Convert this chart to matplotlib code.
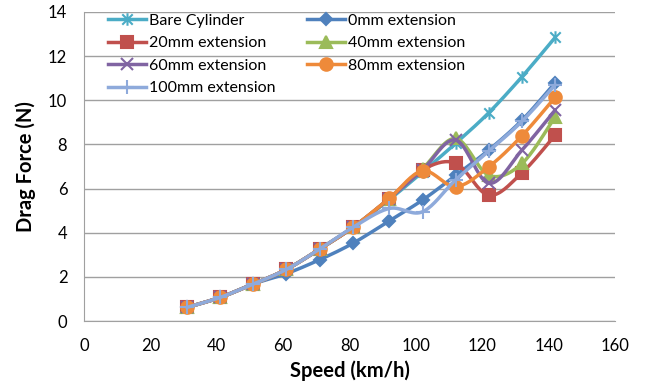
import numpy as np
import matplotlib
matplotlib.use("Agg")
import matplotlib.pyplot as plt
from matplotlib.path import Path

plt.rcParams['font.family'] = ['Lato', 'DejaVu Sans']

speed = [31, 41, 51, 61, 71, 81, 92, 102, 112, 122, 132, 142]

bare = [0.62, 1.07, 1.68, 2.34, 3.26, 4.24, 5.5, 6.75, 8.05, 9.44, 11.07, 12.85]
ext0 = [0.62, 1.07, 1.68, 2.15, 2.78, 3.52, 4.54, 5.48, 6.6, 7.75, 9.1, 10.8]
ext20 = [0.62, 1.07, 1.68, 2.34, 3.26, 4.24, 5.55, 6.85, 7.15, 5.7, 6.72, 8.43]
ext40 = [0.62, 1.07, 1.68, 2.34, 3.26, 4.24, 5.55, 6.9, 8.27, 6.6, 7.14, 9.26]
ext60 = [0.62, 1.07, 1.68, 2.34, 3.26, 4.24, 5.55, 6.85, 8.2, 6.24, 7.75, 9.56]
ext80 = [0.62, 1.07, 1.68, 2.34, 3.26, 4.24, 5.56, 6.8, 6.09, 6.99, 8.4, 10.14]
ext100 = [0.62, 1.07, 1.68, 2.34, 3.26, 4.24, 5.1, 4.95, 6.4, 7.7, 9.05, 10.7]

labels = ['Bare Cylinder', '0mm extension', '20mm extension', '40mm extension',
          '60mm extension', '80mm extension', '100mm extension']

# star marker like excel (x plus vertical bar)
star = Path([(-1, -1), (1, 1), (-1, 1), (1, -1), (0, -1.2), (0, 1.2)],
            [Path.MOVETO, Path.LINETO, Path.MOVETO, Path.LINETO, Path.MOVETO, Path.LINETO])


def smooth(x, y, n=20):
    # catmull-rom style bezier, like excel smoothed lines
    x = np.asarray(x, float)
    y = np.asarray(y, float)
    px = np.concatenate([[x[0]], x, [x[-1]]])
    py = np.concatenate([[y[0]], y, [y[-1]]])
    xs, ys = [], []
    t = np.linspace(0, 1, n)
    for i in range(1, len(px) - 2):
        p0 = np.array([px[i], py[i]])
        p3 = np.array([px[i + 1], py[i + 1]])
        c1 = p0 + (p3 - np.array([px[i - 1], py[i - 1]])) / 6
        c2 = p3 - (np.array([px[i + 2], py[i + 2]]) - p0) / 6
        b = ((1 - t) ** 3)[:, None] * p0 + (3 * (1 - t) ** 2 * t)[:, None] * c1 \
            + (3 * (1 - t) * t ** 2)[:, None] * c2 + (t ** 3)[:, None] * p3
        xs.extend(b[:, 0])
        ys.extend(b[:, 1])
    return xs, ys


series = [bare, ext0, ext20, ext40, ext60, ext80, ext100]
colors = ['#4BACC6', '#4F81BD', '#C0504D', '#9BBB59', '#8064A2', '#EE8A3A', '#8EAADB']
markers = [star, 'D', 's', '^', 'x', 'o', '+']
msizes = [9, 6, 8, 8, 8, 9, 10]

fig = plt.figure(figsize=(6.46, 3.85), dpi=100)
ax = fig.add_axes([0.130, 0.166, 0.822, 0.803])

handles = []
for vals, c, m, ms, lab in zip(series, colors, markers, msizes, labels):
    sx, sy = smooth(speed, vals)
    ax.plot(sx, sy, color=c, lw=2.5, solid_capstyle='round')
    ax.plot(speed, vals, ls='none', marker=m, color=c, ms=ms, mew=1.5)
    h, = ax.plot([], [], color=c, lw=2.5, marker=m, ms=ms, mew=1.5, label=lab)
    handles.append(h)

ax.set_xlim(0, 160)
ax.set_ylim(0, 14)
ax.set_xticks(np.arange(0, 161, 20))
ax.set_yticks(np.arange(0, 15, 2))
ax.yaxis.grid(True, color='#A0A0A0', lw=1)
ax.set_axisbelow(True)
for s in ['top', 'right']:
    ax.spines[s].set_visible(False)
for s in ['left', 'bottom']:
    ax.spines[s].set_color('#A0A0A0')
ax.tick_params(length=0, labelsize=12, pad=12)
ax.set_xlabel('Speed (km/h)', fontsize=14.5, fontweight='bold', labelpad=5)
ax.set_ylabel('Drag Force (N)', fontsize=14.5, fontweight='bold', labelpad=9)

order = [0, 2, 4, 6, 1, 3, 5]
ax.legend([handles[i] for i in order], [labels[i] for i in order], ncol=2,
          loc='upper left', bbox_to_anchor=(0.033, 1.015), frameon=False,
          fontsize=11.5, handlelength=2.4, labelspacing=0.52, columnspacing=2.0,
          handletextpad=0.15, borderaxespad=0)

fig.savefig('out.png', dpi=100)
